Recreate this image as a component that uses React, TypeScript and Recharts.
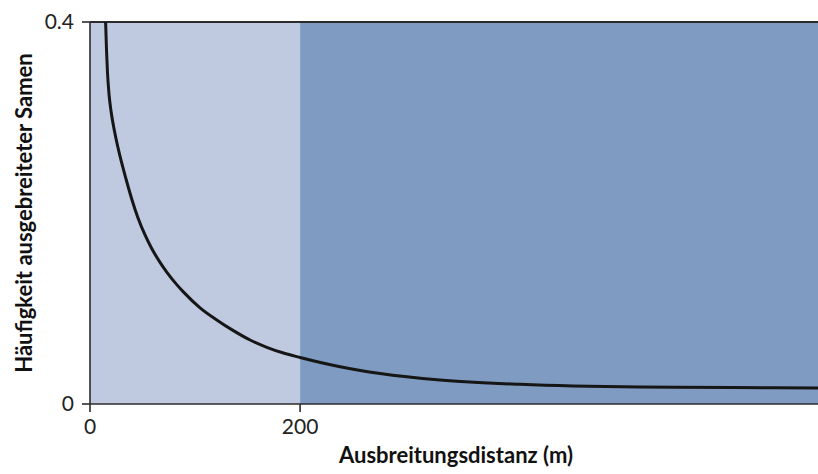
import React from "react";
import { LineChart, Line, XAxis, YAxis, ReferenceArea, ReferenceLine } from "recharts";

const distances = [14.05, 14.86, 15.71, 16.67, 18.1, 20.0, 22.38, 25.24, 30.19, 34.29, 39.71, 45.71, 52.38, 58.76, 66.67, 73.05, 82.57, 88.86, 104.76, 120.67, 136.48, 152.38, 168.29, 184.1, 200, 238.1, 276.2, 333.3, 409.5, 523.8, 612.4, 693];
const frequency = [0.44, 0.4, 0.3707, 0.3466, 0.3246, 0.3068, 0.2911, 0.2754, 0.2524, 0.2356, 0.2147, 0.1948, 0.177, 0.1628, 0.1483, 0.1381, 0.125, 0.1174, 0.1007, 0.088, 0.0768, 0.067, 0.0594, 0.0534, 0.0487, 0.039, 0.0319, 0.0251, 0.0206, 0.0178, 0.0173, 0.0168];
const xTicks = [0, 200];
const yTicks = [0, 0.4];
const zones = [
  { from: 0, to: 200, color: "#BFCAE0" },
  { from: 200, to: 693, color: "#7F9BC2" },
];
const xLabel = "Ausbreitungsdistanz (m)";
const yLabel = "Häufigkeit ausgebreiteter Samen";

const data = distances.map((d, i) => ({ d, f: frequency[i] }));

const FONT = "Lato, 'Open Sans', sans-serif";
const AXIS = "#2b2b2b";

export default function App() {
  return (
    <div style={{ position: "absolute", left: 0, top: 0, width: 818, height: 474, background: "#fff" }}>
      <LineChart width={818} height={474} data={data} margin={{ top: 22, right: 0, bottom: 0, left: 0 }}>
        {zones.map((z) => (
          <ReferenceArea key={z.from} x1={z.from} x2={z.to} y1={0} y2={0.4} fill={z.color} fillOpacity={1} stroke="none" ifOverflow="hidden" />
        ))}
        <XAxis
          dataKey="d"
          type="number"
          domain={[0, 693]}
          allowDataOverflow
          ticks={xTicks}
          height={70}
          tickSize={8}
          tickMargin={7}
          stroke={AXIS}
          strokeWidth={1.6}
          tick={{ fill: "#222", fontSize: 21, fontFamily: FONT }}
          label={{
            content: () => (
              <text x={456} y={454} textAnchor="middle" dominantBaseline="central" fontFamily={FONT} fontWeight="bold" fontSize={22} fill="#111">
                {xLabel}
              </text>
            ),
          }}
        />
        <YAxis
          type="number"
          domain={[0, 0.4]}
          allowDataOverflow
          ticks={yTicks}
          width={90}
          tickSize={8}
          tickMargin={8}
          stroke={AXIS}
          strokeWidth={1.6}
          tickFormatter={(v: number) => (v === 0 ? "0" : String(v))}
          tick={{ fill: "#222", fontSize: 21, fontFamily: FONT }}
          label={{
            content: () => (
              <text x={23} y={213} transform="rotate(-90 23 213)" textAnchor="middle" dominantBaseline="central" fontFamily={FONT} fontWeight="bold" fontSize={22} fill="#111">
                {yLabel}
              </text>
            ),
          }}
        />
        <ReferenceLine y={0.4} stroke={AXIS} strokeWidth={2} />
        <Line dataKey="f" type="monotone" stroke="#161616" strokeWidth={3} dot={false} isAnimationActive={false} />
      </LineChart>
    </div>
  );
}
